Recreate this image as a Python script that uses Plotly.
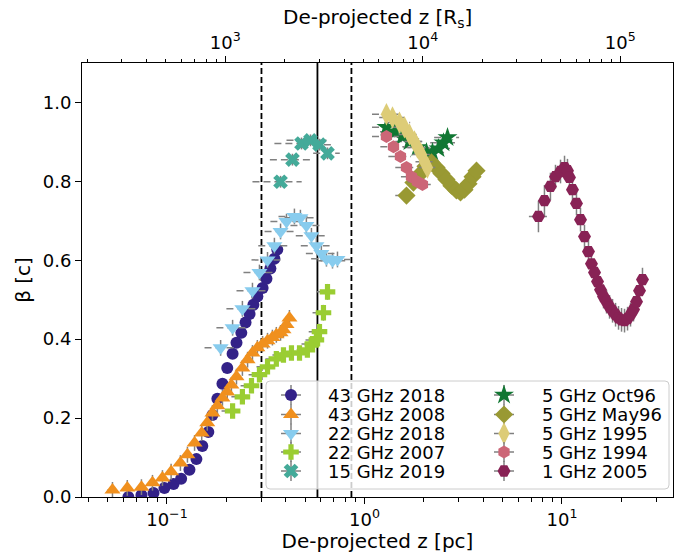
import plotly.graph_objects as go

# ---------------- data ----------------
names = ["43 GHz 2018", "43 GHz 2008", "22 GHz 2018", "22 GHz 2007", "15 GHz 2019",
         "5 GHz Oct96", "5 GHz May96", "5 GHz 1995", "5 GHz 1994", "1 GHz 2005"]

z_43_2018 = [0.0638, 0.0743, 0.0855, 0.0971, 0.108, 0.118, 0.130, 0.141, 0.151, 0.162, 0.170, 0.180, 0.191,
             0.202, 0.215, 0.225, 0.238, 0.250, 0.262, 0.274, 0.287, 0.305, 0.319, 0.334, 0.350, 0.362]
b_43_2018 = [0.0, 0.005, 0.01, 0.023, 0.033, 0.046, 0.069, 0.096, 0.129, 0.165, 0.208, 0.249, 0.287,
             0.327, 0.363, 0.391, 0.416, 0.442, 0.464, 0.487, 0.508, 0.530, 0.553, 0.579, 0.604, 0.627]
ex_43_2018 = [0.003] * 26
ey_43_2018 = [0.013] * 26

z_43_2008 = [0.053, 0.063, 0.0743, 0.0845, 0.0949, 0.105, 0.117, 0.127, 0.138, 0.150, 0.160, 0.170, 0.180,
             0.191, 0.202, 0.212, 0.225, 0.241, 0.256, 0.271, 0.287, 0.305, 0.323, 0.342, 0.358, 0.376,
             0.389, 0.403, 0.417]
b_43_2008 = [0.018, 0.023, 0.025, 0.036, 0.048, 0.064, 0.086, 0.107, 0.137, 0.162, 0.188, 0.213, 0.231,
             0.251, 0.266, 0.284, 0.305, 0.327, 0.348, 0.365, 0.378, 0.388, 0.396, 0.404, 0.411, 0.416,
             0.424, 0.437, 0.454]
ex_43_2008 = [0.003] * 29
ey_43_2008 = [0.02] * 29

z_22_2018 = [0.187, 0.215, 0.241, 0.271, 0.294, 0.323, 0.350, 0.376, 0.403, 0.442, 0.474, 0.508, 0.539,
             0.571, 0.605, 0.642, 0.689, 0.730]
b_22_2018 = [0.378, 0.429, 0.477, 0.523, 0.569, 0.601, 0.637, 0.673, 0.698, 0.711, 0.708, 0.688, 0.662,
             0.637, 0.617, 0.604, 0.599, 0.602]
ex_22_2018 = [0.032, 0.037, 0.041, 0.046, 0.05, 0.055, 0.06, 0.064, 0.069, 0.075, 0.08, 0.086, 0.09,
              0.095, 0.1, 0.105, 0.11, 0.12]
ey_22_2018 = [0.02] * 18

z_22_2007 = [0.215, 0.241, 0.268, 0.294, 0.323, 0.358, 0.389, 0.427, 0.469, 0.514, 0.545, 0.571, 0.592,
             0.620, 0.650]
b_22_2007 = [0.218, 0.254, 0.282, 0.310, 0.330, 0.350, 0.360, 0.365, 0.365, 0.373, 0.388, 0.398, 0.419,
             0.467, 0.520]
ex_22_2007 = [0.026, 0.029, 0.032, 0.035, 0.039, 0.043, 0.047, 0.051, 0.056, 0.06, 0.065, 0.068, 0.07,
              0.074, 0.078]
ey_22_2007 = [0.012, 0.012, 0.012, 0.012, 0.012, 0.012, 0.012, 0.012, 0.012, 0.012, 0.015, 0.015, 0.02,
              0.02, 0.02]

z_15_2019 = [0.376, 0.432, 0.480, 0.533, 0.592, 0.650]
b_15_2019 = [0.799, 0.855, 0.896, 0.904, 0.893, 0.871]
ex_15_2019 = [0.105, 0.10, 0.13, 0.13, 0.11, 0.10]
ey_15_2019 = [0.015] * 6

z_5_oct96 = [1.292, 1.419, 1.557, 1.690, 1.854, 2.060, 2.210, 2.370, 2.512, 2.633]
b_5_oct96 = [0.937, 0.926, 0.914, 0.901, 0.886, 0.873, 0.873, 0.883, 0.898, 0.911]
ex_5_oct96 = [0.2, 0.22, 0.24, 0.26, 0.28, 0.3, 0.32, 0.34, 0.36, 0.38]
ey_5_oct96 = [0.01] * 10

z_5_may96 = [1.632, 1.770, 1.898, 2.036, 2.184, 2.316, 2.454, 2.601, 2.758, 2.923, 3.063, 3.209, 3.363,
             3.524, 3.692]
b_5_may96 = [0.764, 0.797, 0.817, 0.838, 0.848, 0.835, 0.820, 0.805, 0.789, 0.777, 0.772, 0.779, 0.794,
             0.812, 0.827]
ex_5_may96 = [0.2] + [0.1] * 14
ey_5_may96 = [0.01] * 15

z_5_1995 = [1.292, 1.387, 1.504, 1.594, 1.690, 1.791, 1.854, 1.944, 2.013, 2.084]
b_5_1995 = [0.970, 0.962, 0.949, 0.937, 0.919, 0.901, 0.886, 0.868, 0.850, 0.835]
ex_5_1995 = [0.2] * 10
ey_5_1995 = [0.01] * 10

z_5_1994 = [1.292, 1.403, 1.521, 1.632, 1.730, 1.854, 1.966]
b_5_1994 = [0.914, 0.888, 0.863, 0.835, 0.812, 0.799, 0.792]
ex_5_1994 = [0.2] * 7
ey_5_1994 = [0.01] * 7

z_1_2005 = [7.60, 8.15, 8.74, 9.27, 9.83, 10.30, 10.66, 10.91, 11.30, 11.84, 12.41, 13.00, 13.62, 14.10,
            14.61, 15.13, 15.67, 16.23, 16.81, 17.41, 18.03, 18.67, 19.33, 20.02, 20.73, 21.47, 22.23,
            23.02, 23.84, 24.69, 25.56]
b_1_2005 = [0.711, 0.751, 0.787, 0.812, 0.825, 0.835, 0.827, 0.810, 0.779, 0.744, 0.703, 0.660, 0.622,
            0.591, 0.569, 0.546, 0.525, 0.508, 0.495, 0.482, 0.472, 0.462, 0.454, 0.449, 0.447, 0.452,
            0.462, 0.475, 0.495, 0.523, 0.551]
ex_1_2005 = [0.8] + [0.4] * 30
ey_1_2005 = [0.04, 0.04, 0.035] + [0.03] * 28

vlines_dashed = [0.301, 0.859]
vline_solid = [0.578]

xticks_pc = [0.1, 1, 10]
xticks_pc_text = ["10<sup>\u22121</sup>", "10<sup>0</sup>", "10<sup>1</sup>"]
xticks_rs = [1e3, 1e4, 1e5]
xticks_rs_text = ["10<sup>3</sup>", "10<sup>4</sup>", "10<sup>5</sup>"]
yticks = [0.0, 0.2, 0.4, 0.6, 0.8, 1.0]

# ---------------- styles ----------------
colors = ["#332288", "#F0901E", "#88CCEE", "#9ACD32", "#44AA99",
          "#117733", "#999933", "#DDCC77", "#CC6677", "#882255"]
symbols = ["circle", "triangle-up", "triangle-down", "cross", "x",
           "star", "diamond", "diamond-tall", "hexagon", "hexagon2"]
sizes = [12, 14, 14, 13, 13, 15, 14, 16, 13, 13]

data = [
    (z_43_2018, b_43_2018, ex_43_2018, ey_43_2018),
    (z_43_2008, b_43_2008, ex_43_2008, ey_43_2008),
    (z_22_2018, b_22_2018, ex_22_2018, ey_22_2018),
    (z_22_2007, b_22_2007, ex_22_2007, ey_22_2007),
    (z_15_2019, b_15_2019, ex_15_2019, ey_15_2019),
    (z_5_oct96, b_5_oct96, ex_5_oct96, ey_5_oct96),
    (z_5_may96, b_5_may96, ex_5_may96, ey_5_may96),
    (z_5_1995, b_5_1995, ex_5_1995, ey_5_1995),
    (z_5_1994, b_5_1994, ex_5_1994, ey_5_1994),
    (z_1_2005, b_1_2005, ex_1_2005, ey_1_2005),
]

FONT = "DejaVu Sans"
ERR = "#808080"

fig = go.Figure()

for (z, b, ex, ey), name, c, s, sz in zip(data, names, colors, symbols, sizes):
    # horizontal error bars, dashed as in the reference
    xs, ys = [], []
    for zi, bi, ei in zip(z, b, ex):
        xs += [zi - ei, zi + ei, None]
        ys += [bi, bi, None]
    fig.add_trace(go.Scatter(x=xs, y=ys, mode="lines", showlegend=False, hoverinfo="skip",
                             line=dict(color=ERR, width=1.5, dash="7px,4px")))
    fig.add_trace(go.Scatter(
        x=z, y=b, mode="markers", name=name, showlegend=False,
        marker=dict(color=c, symbol=s, size=sz, line=dict(width=0)),
        error_y=dict(type="data", array=ey, color=ERR, thickness=1.5, width=0),
    ))

# empty trace so that the top (R_s) axis is drawn
fig.add_trace(go.Scatter(x=[], y=[], xaxis="x2", yaxis="y", showlegend=False, hoverinfo="skip"))

# ---------------- manual two-column legend ----------------
W, H = 591.0, 434.0   # plot area in px
leg_x0, leg_x1 = 184 / W, 587 / W
leg_y0, leg_y1 = 8 / H, 116 / H
rx, ry = 4 / W, 4 / H
path = (f"M {leg_x0+rx},{leg_y0} L {leg_x1-rx},{leg_y0} Q {leg_x1},{leg_y0} {leg_x1},{leg_y0+ry} "
        f"L {leg_x1},{leg_y1-ry} Q {leg_x1},{leg_y1} {leg_x1-rx},{leg_y1} "
        f"L {leg_x0+rx},{leg_y1} Q {leg_x0},{leg_y1} {leg_x0},{leg_y1-ry} "
        f"L {leg_x0},{leg_y0+ry} Q {leg_x0},{leg_y0} {leg_x0+rx},{leg_y0} Z")

col_marker_px = [209, 422]
col_text_px = [244, 458]
row_px = [102, 82.5, 63.5, 45, 26]
for i, (name, c, s, sz) in enumerate(zip(names, colors, symbols, sizes)):
    col, row = divmod(i, 5)
    mx = col_marker_px[col] / W
    my = row_px[row] / H
    fig.add_trace(go.Scatter(
        x=[mx], y=[my], xaxis="x3", yaxis="y3", mode="markers", showlegend=False, hoverinfo="skip",
        marker=dict(color=c, symbol=s, size=sz, line=dict(width=0)),
        error_x=dict(type="constant", value=10 / W, color=ERR, thickness=1.5, width=0),
        error_y=dict(type="constant", value=10 / H, color=ERR, thickness=1.5, width=0),
    ))
    fig.add_annotation(x=col_text_px[col] / W, y=my, xref="paper", yref="paper", text=name,
                       showarrow=False, xanchor="left", yanchor="middle",
                       font=dict(family=FONT, size=18, color="black"))

# top axis title (placed as in the reference)
fig.add_annotation(x=0.5, y=1 + 45 / H, xref="paper", yref="paper",
                   text="De-projected z [R<sub>s</sub>]", showarrow=False,
                   xanchor="center", yanchor="middle", font=dict(family=FONT, size=20, color="black"))

# vertical lines
for v in vlines_dashed:
    fig.add_shape(type="line", xref="x", yref="paper", x0=v, x1=v, y0=0, y1=1, layer="below",
                  line=dict(color="black", width=1.8, dash="6px,3px"))
for v in vline_solid:
    fig.add_shape(type="line", xref="x", yref="paper", x0=v, x1=v, y0=0, y1=1, layer="below",
                  line=dict(color="black", width=1.8))

fig.add_shape(type="path", xref="paper", yref="paper", path=path, layer="below",
              fillcolor="rgba(255,255,255,0.8)", line=dict(color="#cccccc", width=1))

# minor tick positions
minor_pc = [m * 10.0 ** e for e in range(-2, 2) for m in range(2, 10)]
minor_rs = [m * 10.0 ** e for e in range(2, 6) for m in range(2, 10)]

axis_common = dict(showline=True, linecolor="black", linewidth=1, ticks="outside", ticklen=6,
                   tickwidth=1, tickcolor="black", showgrid=False, zeroline=False, automargin=False,
                   tickfont=dict(family=FONT, size=18, color="black"))

fig.update_layout(
    width=675, height=553,
    margin=dict(l=82, r=2, t=63, b=56),
    paper_bgcolor="white", plot_bgcolor="white",
    showlegend=False,
    font=dict(family=FONT, color="black"),
    xaxis=dict(type="log", range=[-1.43, 1.562], tickmode="array", tickvals=xticks_pc,
               ticktext=xticks_pc_text,
               minor=dict(tickmode="array", tickvals=minor_pc, ticks="outside", ticklen=3.5,
                          tickcolor="black", tickwidth=1, showgrid=False),
               title=dict(text="De-projected z [pc]", font=dict(family=FONT, size=20), standoff=6),
               **axis_common),
    xaxis2=dict(type="log", overlaying="x", side="top", anchor="y", range=[2.275, 5.267],
                tickmode="array", tickvals=xticks_rs, ticktext=xticks_rs_text,
                minor=dict(tickmode="array", tickvals=minor_rs, ticks="outside", ticklen=3.5,
                           tickcolor="black", tickwidth=1, showgrid=False),
                **axis_common),
    yaxis=dict(range=[0, 1.1], tickmode="array", tickvals=yticks, tickformat=".1f", mirror=True,
               title=dict(text="\u03b2 [c]", font=dict(family=FONT, size=20), standoff=6),
               **axis_common),
    xaxis3=dict(overlaying="x", range=[0, 1], visible=False, anchor="y3"),
    yaxis3=dict(overlaying="y", range=[0, 1], visible=False, anchor="x3"),
)

fig.write_html("out.html", config={"displayModeBar": False},
               post_script="document.body.style.margin='0';")
